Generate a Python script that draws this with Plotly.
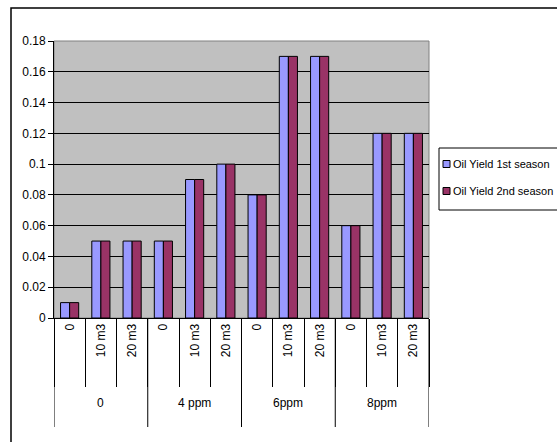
import plotly.graph_objects as go

groups = ["0", "4 ppm", "6ppm", "8ppm"]
subcats = ["0", "10 m3", "20 m3"]
season1 = [0.01, 0.05, 0.05, 0.05, 0.09, 0.10, 0.08, 0.17, 0.17, 0.06, 0.12, 0.12]
season2 = [0.01, 0.05, 0.05, 0.05, 0.09, 0.10, 0.08, 0.17, 0.17, 0.06, 0.12, 0.12]
series_names = ["Oil Yield 1st season", "Oil Yield 2nd season"]
series_colors = ["#9999FF", "#993366"]
y_ticks = [0, 0.02, 0.04, 0.06, 0.08, 0.1, 0.12, 0.14, 0.16, 0.18]

n = len(groups) * len(subcats)
xs = list(range(n))
tick_text = [s for g in groups for s in subcats]

W, H = 557, 442
L, R, T, B = 54, 429, 41, 318
pw, ph = R - L, B - T

def px(x):
    return (x - L) / pw

def py(y):
    return (B - y) / ph

FONT = "Liberation Sans"

fig = go.Figure()
for name, vals, col in zip(series_names, [season1, season2], series_colors):
    fig.add_trace(go.Bar(x=xs, y=vals, name=name,
                         marker=dict(color=col, line=dict(color="black", width=1))))

fig.update_layout(
    width=W, height=H,
    margin=dict(l=L, r=W - R, t=T, b=H - B, autoexpand=False),
    paper_bgcolor="white", plot_bgcolor="#C0C0C0",
    barmode="group", bargap=0.42, bargroupgap=0,
    font=dict(family=FONT, size=12, color="black"),
    showlegend=False,
)

fig.update_xaxes(
    range=[-0.5, n - 0.5], tickmode="array", tickvals=xs, ticktext=tick_text,
    tickangle=-90, ticks="", showgrid=False, zeroline=False,
    showline=True, linecolor="black", linewidth=1,
    minor=dict(tickmode="array", tickvals=[k - 0.5 for k in range(n + 1)],
               ticks="outside", ticklen=68, tickcolor="black", tickwidth=1, showgrid=False),
)
fig.update_yaxes(
    range=[0, 0.18], tickmode="array", tickvals=y_ticks,
    ticktext=[("%g" % v) for v in y_ticks],
    ticks="outside", ticklen=5, tickcolor="black",
    showgrid=True, gridcolor="black", gridwidth=1, zeroline=False,
    showline=True, linecolor="black", linewidth=1,
)

# group dividers and labels
for gi in range(len(groups) + 1):
    xb = gi * len(subcats) - 0.5
    fig.add_shape(type="line", xref="x", yref="paper", x0=xb, x1=xb,
                  y0=0, y1=py(427), line=dict(color="black", width=1))
for gi, g in enumerate(groups):
    fig.add_annotation(x=gi * len(subcats) + 1, y=py(412), xref="x", yref="paper",
                       text=g, showarrow=False, font=dict(size=12))

# plot area top/right border
fig.add_shape(type="rect", xref="paper", yref="paper", x0=0, x1=1, y0=0, y1=1,
              line=dict(color="#808080", width=1), layer="below")
# outer chart border
fig.add_shape(type="rect", xref="paper", yref="paper", x0=px(11), x1=px(570),
              y0=py(460), y1=py(8), line=dict(color="black", width=1.5))

# legend box (drawn manually to match the reference placement)
fig.add_shape(type="rect", xref="paper", yref="paper", x0=px(439), x1=px(600),
              y0=py(210), y1=py(148), line=dict(color="black", width=1), fillcolor="white")
for i, (name, col) in enumerate(zip(series_names, series_colors)):
    cy = 164 + i * 27
    fig.add_shape(type="rect", xref="paper", yref="paper",
                  x0=px(443), x1=px(450), y0=py(cy + 3.5), y1=py(cy - 3.5),
                  line=dict(color="black", width=1), fillcolor=col)
    fig.add_annotation(x=px(451), y=py(cy), xref="paper", yref="paper",
                       xanchor="left", yanchor="middle", text=name, showarrow=False,
                       font=dict(size=11))

fig.write_html("out.html")
